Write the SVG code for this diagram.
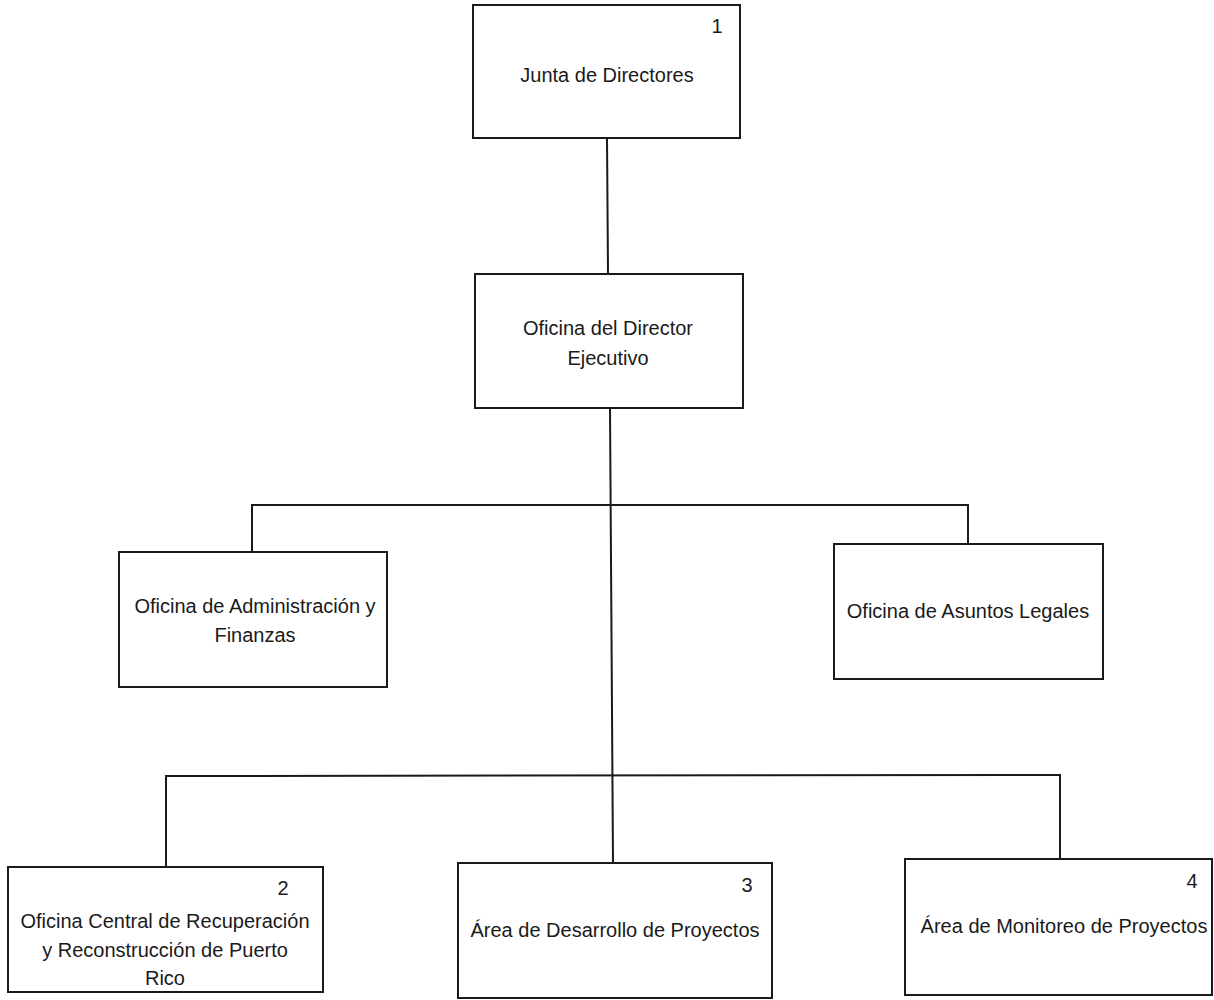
<svg xmlns="http://www.w3.org/2000/svg" width="1214" height="1000" viewBox="0 0 1214 1000">
<style>
.box{fill:#fff;stroke:#1a1a1a;stroke-width:2}
.lbl{font-family:"Liberation Sans",Arial,sans-serif;font-size:20px;fill:#1a1a1a;text-anchor:middle}
.num{font-family:"Liberation Sans",Arial,sans-serif;font-size:20px;fill:#1a1a1a;text-anchor:middle}
.ln{fill:none;stroke:#1a1a1a;stroke-width:2}
</style>
<rect width="1214" height="1000" fill="#fff"/>
<g id="connectors">
<line class="ln" x1="607" y1="138" x2="608" y2="274"/>
<line class="ln" x1="610" y1="408" x2="613" y2="863"/>
<polyline class="ln" points="252,552 252,505 968,505 968,544"/>
<polyline class="ln" points="166,867 166,776 1060,775 1060,859"/>
</g>
<g id="n1">
<rect class="box" x="473" y="5" width="267" height="133"/>
<text class="num" x="717" y="33">1</text>
<text class="lbl" x="607" y="82">Junta de Directores</text>
</g>
<g id="n2">
<rect class="box" x="475" y="274" width="268" height="134"/>
<text class="lbl" x="608" y="335">Oficina del Director</text>
<text class="lbl" x="608" y="365">Ejecutivo</text>
</g>
<g id="n3">
<rect class="box" x="119" y="552" width="268" height="135"/>
<text class="lbl" x="255" y="613">Oficina de Administración y</text>
<text class="lbl" x="255" y="642">Finanzas</text>
</g>
<g id="n4">
<rect class="box" x="834" y="544" width="269" height="135"/>
<text class="lbl" x="968" y="618">Oficina de Asuntos Legales</text>
</g>
<g id="n5">
<rect class="box" x="8" y="867" width="315" height="125"/>
<text class="num" x="283" y="895">2</text>
<text class="lbl" x="165" y="928">Oficina Central de Recuperación</text>
<text class="lbl" x="165" y="957">y Reconstrucción de Puerto</text>
<text class="lbl" x="165" y="985">Rico</text>
</g>
<g id="n6">
<rect class="box" x="458" y="863" width="314" height="135"/>
<text class="num" x="747" y="892">3</text>
<text class="lbl" x="615" y="937">Área de Desarrollo de Proyectos</text>
</g>
<g id="n7">
<rect class="box" x="905" y="859" width="307" height="136"/>
<text class="num" x="1192" y="888">4</text>
<text class="lbl" x="1064" y="933">Área de Monitoreo de Proyectos</text>
</g>
</svg>
